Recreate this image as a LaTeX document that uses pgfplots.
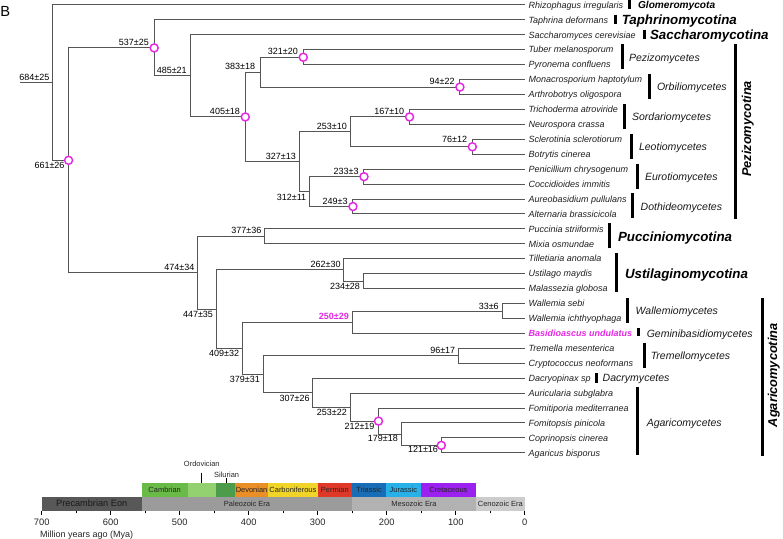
\documentclass[border=0pt]{standalone}
\usepackage{fontspec}
\setmainfont{Liberation Sans}
\usepackage{pgfplots}
\pgfplotsset{compat=1.18}
\definecolor{treec}{RGB}{85,85,85}
\definecolor{mag}{RGB}{228,40,228}
\definecolor{precam}{RGB}{88,88,88}
\definecolor{paleo}{RGB}{155,155,155}
\definecolor{meso}{RGB}{178,178,178}
\definecolor{ceno}{RGB}{204,204,204}
\definecolor{camb}{RGB}{106,186,72}
\definecolor{ordo}{RGB}{146,208,112}
\definecolor{silu}{RGB}{76,156,76}
\definecolor{devo}{RGB}{234,142,38}
\definecolor{carb}{RGB}{240,212,40}
\definecolor{perm}{RGB}{224,56,40}
\definecolor{tria}{RGB}{24,110,182}
\definecolor{jura}{RGB}{40,176,232}
\definecolor{cret}{RGB}{156,32,240}
\newcommand{\fs}[1]{\fontsize{#1}{#1}\selectfont}
\newcommand{\br}[1]{\addplot[br] coordinates {#1};}
\newcommand{\rect}[5]{\addplot[fill=#5, draw=none] coordinates {(#1,#3) (#2,#3) (#2,#4) (#1,#4)} -- cycle;}
\newcommand{\gbar}[3]{\addplot[black, line width=2.2pt] coordinates {(#1,#2) (#1,#3)};}
\begin{document}
\begin{tikzpicture}[
  br/.style={draw=treec, line width=0.75pt},
  al/.style={anchor=south east, inner sep=0pt, xshift=-2.3pt, yshift=1.6pt, font=\fs{6.75}},
  alc/.style={al, xshift=-1.5pt},
  bl/.style={anchor=north east, inner sep=0pt, xshift=-2.3pt, yshift=-1.6pt, font=\fs{6.75}},
  tl/.style={anchor=base west, inner sep=0pt, xshift=2.6pt, yshift=-2.4pt, font=\fs{6.75}\itshape, text=black!88},
  big/.style={anchor=base west, inner sep=0pt, yshift=-3.6pt, font=\fs{10}\bfseries\itshape},
  cls/.style={anchor=base west, inner sep=0pt, yshift=-2.85pt, font=\fs{7.9}\itshape, text=black!90},
  per/.style={inner sep=0pt, font=\fs{5.6}, text=black!85},
]
\begin{axis}[
  x=0.5178pt, y=11.2pt,
  xmin=-700, xmax=0, ymin=-34.87, ymax=-0.665,
  axis x line*=bottom, axis y line=none,
  x axis line style={-, line width=0.6pt},
  xtick={-700,-600,-500,-400,-300,-200,-100,0},
  xticklabels={700,600,500,400,300,200,100,0},
  minor xtick={-650,-550,-450,-350,-250,-150,-50},
  tick align=outside, major tick length=3pt, minor tick length=2pt,
  every tick/.style={black, line width=0.6pt},
  xticklabel style={font=\fs{7}, text=black!85},
  clip=false,
]
% ---- timescale ----
\rect{-700}{-555}{-33.93}{-34.87}{precam}
\rect{-555}{-250}{-33.93}{-34.87}{paleo}
\rect{-250}{-71}{-33.93}{-34.87}{meso}
\rect{-71}{0}{-33.93}{-34.87}{ceno}
\rect{-555}{-488.6}{-33.04}{-33.93}{camb}
\rect{-488.6}{-448}{-33.04}{-33.93}{ordo}
\rect{-448}{-420}{-33.04}{-33.93}{silu}
\rect{-420}{-371.8}{-33.04}{-33.93}{devo}
\rect{-371.8}{-300.3}{-33.04}{-33.93}{carb}
\rect{-300.3}{-250.1}{-33.04}{-33.93}{perm}
\rect{-250.1}{-201.3}{-33.04}{-33.93}{tria}
\rect{-201.3}{-150.6}{-33.04}{-33.93}{jura}
\rect{-150.6}{-71}{-33.04}{-33.93}{cret}
\addplot[black, line width=0.8pt] coordinates {(-468,-32.32) (-468,-33.04)};
\addplot[black, line width=0.8pt] coordinates {(-432,-32.68) (-432,-33.04)};
\node[per] at (axis cs:-468,-31.76) {Ordovician};
\node[per] at (axis cs:-432,-32.49) {Silurian};
\node[per] at (axis cs:-521.8,-33.485) {Cambrian};
\node[per] at (axis cs:-395.9,-33.485) {Devonian};
\node[per] at (axis cs:-336,-33.485) {Carboniferous};
\node[per] at (axis cs:-275.2,-33.485) {Permian};
\node[per] at (axis cs:-225.7,-33.485) {Triassic};
\node[per] at (axis cs:-176,-33.485) {Jurassic};
\node[per] at (axis cs:-110.8,-33.485) {Cretaceous};
\node[inner sep=0pt, font=\fs{6.9}, text=black!90] at (axis cs:-627.5,-34.4) {Precambrian Eon};
\node[per] at (axis cs:-402.5,-34.4) {Paleozoic Era};
\node[per] at (axis cs:-160.5,-34.4) {Mesozoic Era};
\node[per] at (axis cs:-35.5,-34.4) {Cenozoic Era};
\node[anchor=west, inner sep=0pt, font=\fs{6.75}, text=black!85] at (axis cs:-702.5,-36.5) {Million years ago (Mya)};
% ---- tree ----
\br{(-731,-6.203) (-684,-6.203)}
\br{(0,-1) (-684,-1) (-684,-11.405) (-661,-11.405)}
\br{(-537,-3.875) (-661,-3.875) (-661,-18.936) (-474,-18.936)}
\br{(0,-2) (-537,-2) (-537,-5.75) (-485,-5.75)}
\br{(0,-3) (-485,-3) (-485,-8.5) (-405,-8.5)}
\br{(-383,-5.5) (-405,-5.5) (-405,-11.5) (-327,-11.5)}
\br{(-321,-4.5) (-383,-4.5) (-383,-6.5) (-94,-6.5)}
\br{(0,-4) (-321,-4) (-321,-5) (0,-5)}
\br{(0,-6) (-94,-6) (-94,-7) (0,-7)}
\br{(-253,-9.5) (-327,-9.5) (-327,-13.5) (-312,-13.5)}
\br{(-167,-8.5) (-253,-8.5) (-253,-10.5) (-76,-10.5)}
\br{(0,-8) (-167,-8) (-167,-9) (0,-9)}
\br{(0,-10) (-76,-10) (-76,-11) (0,-11)}
\br{(-233,-12.5) (-312,-12.5) (-312,-14.5) (-249,-14.5)}
\br{(0,-12) (-233,-12) (-233,-13) (0,-13)}
\br{(0,-14) (-249,-14) (-249,-15) (0,-15)}
\br{(-377,-16.5) (-474,-16.5) (-474,-21.371) (-447,-21.371)}
\br{(0,-16) (-377,-16) (-377,-17) (0,-17)}
\br{(-262,-18.75) (-447,-18.75) (-447,-23.992) (-409,-23.992)}
\br{(0,-18) (-262,-18) (-262,-19.5) (-234,-19.5)}
\br{(0,-19) (-234,-19) (-234,-20) (0,-20)}
\br{(-250,-22.25) (-409,-22.25) (-409,-25.734) (-379,-25.734)}
\br{(-33,-21.5) (-250,-21.5) (-250,-23) (0,-23)}
\br{(0,-21) (-33,-21) (-33,-22) (0,-22)}
\br{(-96,-24.5) (-379,-24.5) (-379,-26.969) (-307,-26.969)}
\br{(0,-24) (-96,-24) (-96,-25) (0,-25)}
\br{(0,-26) (-307,-26) (-307,-27.938) (-253,-27.938)}
\br{(0,-27) (-253,-27) (-253,-28.875) (-212,-28.875)}
\br{(0,-28) (-212,-28) (-212,-29.75) (-179,-29.75)}
\br{(0,-29) (-179,-29) (-179,-30.5) (-121,-30.5)}
\br{(0,-30) (-121,-30) (-121,-31) (0,-31)}
\addplot[only marks, mark=*, mark size=3pt, mark options={draw=mag, fill=white, line width=1.1pt}] coordinates {
(-537,-3.875) (-405,-8.5) (-321,-4.5) (-94,-6.5) (-167,-8.5) (-76,-10.5)
(-233,-12.5) (-249,-14.5) (-661,-11.405) (-212,-28.875) (-121,-30.5)};
% ---- node ages ----
\node[al] at (axis cs:-684,-6.203) {684±25};
\node[alc] at (axis cs:-537,-3.875) {537±25};
\node[al] at (axis cs:-485,-5.75) {485±21};
\node[al, xshift=-1.5pt] at (axis cs:-383,-5.5) {383±18};
\node[alc] at (axis cs:-405,-8.5) {405±18};
\node[alc] at (axis cs:-321,-4.5) {321±20};
\node[alc] at (axis cs:-94,-6.5) {94±22};
\node[al] at (axis cs:-327,-11.5) {327±13};
\node[al] at (axis cs:-253,-9.5) {253±10};
\node[alc] at (axis cs:-167,-8.5) {167±10};
\node[alc, yshift=1pt] at (axis cs:-76,-10.5) {76±12};
\node[alc] at (axis cs:-233,-12.5) {233±3};
\node[alc] at (axis cs:-249,-14.5) {249±3};
\node[al] at (axis cs:-377,-16.5) {377±36};
\node[al] at (axis cs:-474,-18.936) {474±34};
\node[al] at (axis cs:-262,-18.75) {262±30};
\node[al, text=mag, font=\fs{6.75}\bfseries] at (axis cs:-250,-22.25) {250±29};
\node[al, yshift=-0.8pt] at (axis cs:-33,-21.5) {33±6};
\node[al] at (axis cs:-96,-24.5) {96±17};
\node[bl, xshift=-0.6pt] at (axis cs:-661,-11.405) {661±26};
\node[bl] at (axis cs:-312,-13.5) {312±11};
\node[bl] at (axis cs:-234,-19.5) {234±28};
\node[bl] at (axis cs:-447,-21.371) {447±35};
\node[bl] at (axis cs:-409,-23.992) {409±32};
\node[bl] at (axis cs:-379,-25.734) {379±31};
\node[bl] at (axis cs:-307,-26.969) {307±26};
\node[bl] at (axis cs:-253,-27.938) {253±22};
\node[bl, xshift=-0.5pt] at (axis cs:-212,-28.875) {212±19};
\node[bl, yshift=0.8pt] at (axis cs:-179,-29.75) {179±18};
\node[bl, yshift=0.8pt] at (axis cs:-121,-30.5) {121±16};
% ---- tip labels ----
\node[tl] at (axis cs:0,-1) {Rhizophagus irregularis};
\node[tl] at (axis cs:0,-2) {Taphrina deformans};
\node[tl] at (axis cs:0,-3) {Saccharomyces cerevisiae};
\node[tl] at (axis cs:0,-4) {Tuber melanosporum};
\node[tl] at (axis cs:0,-5) {Pyronema confluens};
\node[tl] at (axis cs:0,-6) {Monacrosporium haptotylum};
\node[tl] at (axis cs:0,-7) {Arthrobotrys oligospora};
\node[tl] at (axis cs:0,-8) {Trichoderma atroviride};
\node[tl] at (axis cs:0,-9) {Neurospora crassa};
\node[tl] at (axis cs:0,-10) {Sclerotinia sclerotiorum};
\node[tl] at (axis cs:0,-11) {Botrytis cinerea};
\node[tl] at (axis cs:0,-12) {Penicillium chrysogenum};
\node[tl] at (axis cs:0,-13) {Coccidioides immitis};
\node[tl] at (axis cs:0,-14) {Aureobasidium pullulans};
\node[tl] at (axis cs:0,-15) {Alternaria brassicicola};
\node[tl] at (axis cs:0,-16) {Puccinia striiformis};
\node[tl] at (axis cs:0,-17) {Mixia osmundae};
\node[tl] at (axis cs:0,-18) {Tilletiaria anomala};
\node[tl] at (axis cs:0,-19) {Ustilago maydis};
\node[tl] at (axis cs:0,-20) {Malassezia globosa};
\node[tl] at (axis cs:0,-21) {Wallemia sebi};
\node[tl] at (axis cs:0,-22) {Wallemia ichthyophaga};
\node[tl, text=mag, font=\fs{6.75}\bfseries\itshape] at (axis cs:0,-23) {Basidioascus undulatus};
\node[tl] at (axis cs:0,-24) {Tremella mesenterica};
\node[tl] at (axis cs:0,-25) {Cryptococcus neoformans};
\node[tl] at (axis cs:0,-26) {Dacryopinax sp};
\node[tl] at (axis cs:0,-27) {Auricularia subglabra};
\node[tl] at (axis cs:0,-28) {Fomitiporia mediterranea};
\node[tl] at (axis cs:0,-29) {Fomitopsis pinicola};
\node[tl] at (axis cs:0,-30) {Coprinopsis cinerea};
\node[tl] at (axis cs:0,-31) {Agaricus bisporus};
% ---- group bars ----
\gbar{151.1}{-0.65}{-1.25}
\gbar{131.8}{-1.65}{-2.25}
\gbar{173.8}{-2.65}{-3.25}
\gbar{141.5}{-3.62}{-5.3}
\gbar{181.1}{-5.62}{-7.3}
\gbar{144.8}{-7.62}{-9.3}
\gbar{154.5}{-9.62}{-11.3}
\gbar{163.2}{-11.62}{-13.3}
\gbar{156.4}{-13.62}{-15.3}
\gbar{305.2}{-3.6}{-15.35}
\gbar{123.1}{-15.62}{-17.3}
\gbar{133.3}{-17.62}{-20.2}
\gbar{149.2}{-20.62}{-22.3}
\gbar{165.1}{-22.65}{-23.2}
\gbar{173.8}{-23.62}{-25.3}
\gbar{104.3}{-25.65}{-26.3}
\gbar{163.7}{-26.62}{-31.15}
\gbar{344.3}{-20.65}{-31.2}
\node[big, font=\fs{7.6}\bfseries\itshape, yshift=0.9pt] at (axis cs:163.7,-1) {Glomeromycota};
\node[big] at (axis cs:140.1,-2) {Taphrinomycotina};
\node[big] at (axis cs:181.1,-3) {Saccharomycotina};
\node[cls] at (axis cs:150.6,-4.5) {Pezizomycetes};
\node[cls] at (axis cs:191.2,-6.5) {Orbiliomycetes};
\node[cls] at (axis cs:155,-8.5) {Sordariomycetes};
\node[cls] at (axis cs:165.1,-10.5) {Leotiomycetes};
\node[cls] at (axis cs:173.8,-12.5) {Eurotiomycetes};
\node[cls] at (axis cs:167.6,-14.5) {Dothideomycetes};
\node[rotate=90, inner sep=0pt, font=\fs{9.6}\bfseries\itshape] at (axis cs:323,-9.3) {Pezizomycotina};
\node[big] at (axis cs:134.7,-16.5) {Pucciniomycotina};
\node[big] at (axis cs:144.8,-19) {Ustilaginomycotina};
\node[cls] at (axis cs:160.3,-21.5) {Wallemiomycetes};
\node[cls] at (axis cs:176.3,-23) {Geminibasidiomycetes};
\node[cls] at (axis cs:182.1,-24.5) {Tremellomycetes};
\node[cls] at (axis cs:112.5,-26) {Dacrymycetes};
\node[cls] at (axis cs:176.3,-29) {Agaricomycetes};
\node[rotate=90, inner sep=0pt, font=\fs{9.6}\bfseries\itshape] at (axis cs:360.7,-25.8) {Agaricomycotina};
\node[anchor=north west, inner sep=0pt, font=\fs{11}] at (axis cs:-760.4,-1.1) {B};
\coordinate (bbA) at (axis cs:-760.4,-0.665);
\coordinate (bbB) at (axis cs:374.1,-36.77);
\end{axis}
\pgfresetboundingbox
\path[use as bounding box] (bbA) rectangle (bbB);
\end{tikzpicture}
\end{document}
